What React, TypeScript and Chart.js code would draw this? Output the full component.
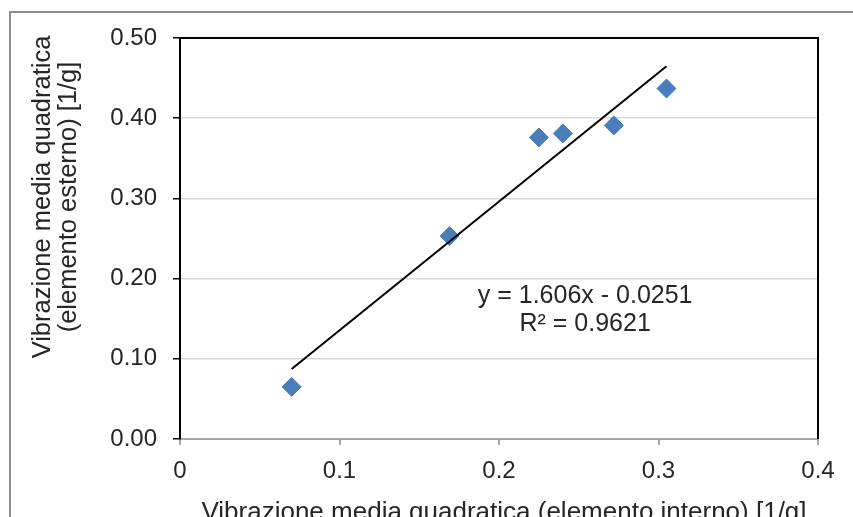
import { useEffect, useRef } from 'react';
import { Chart, registerables } from 'chart.js';

Chart.register(...registerables);

// ---- data ----
const xValues = [0.070, 0.169, 0.225, 0.240, 0.272, 0.305];
const yValues = [0.065, 0.253, 0.376, 0.381, 0.391, 0.437];
const SLOPE = 1.606;
const INTERCEPT = -0.0251;
const R2 = 0.9621;
const xTicks = [0, 0.1, 0.2, 0.3, 0.4];
const yTicks = [0, 0.1, 0.2, 0.3, 0.4, 0.5];
const xTitle = 'Vibrazione media quadratica (elemento interno) [1/g]';
const yTitle = ['Vibrazione media quadratica', '(elemento esterno) [1/g]'];
const equationLines = ['y = ' + SLOPE + 'x - ' + Math.abs(INTERCEPT), 'R² = ' + R2];

const FONT = '"Liberation Sans", Arial, sans-serif';
const TEXT = '#262626';

export default function App() {
  const ref = useRef<HTMLCanvasElement | null>(null);

  useEffect(() => {
    if (!ref.current) return;
    const points = xValues.map((x, i) => ({ x, y: yValues[i] }));
    const xmin = Math.min(...xValues);
    const xmax = Math.max(...xValues);
    const trend = [xmin, xmax].map((x) => ({ x, y: SLOPE * x + INTERCEPT }));

    const decor = {
      id: 'decor',
      beforeDraw(chart: any) {
        const ctx = chart.ctx;
        ctx.save();
        ctx.strokeStyle = '#8c8c8c';
        ctx.lineWidth = 2;
        ctx.beginPath();
        ctx.moveTo(10, 520);
        ctx.lineTo(10, 12);
        ctx.lineTo(860, 12);
        ctx.stroke();
        ctx.restore();
      },
      afterDraw(chart: any) {
        const ctx = chart.ctx;
        const a = chart.chartArea;
        const xs = chart.scales.x;
        const ys = chart.scales.y;
        ctx.save();
        // plot area top/right border
        ctx.strokeStyle = '#000';
        ctx.lineWidth = 2;
        ctx.beginPath();
        ctx.moveTo(a.left, a.top);
        ctx.lineTo(a.right, a.top);
        ctx.lineTo(a.right, a.bottom);
        ctx.stroke();
        // equation
        ctx.fillStyle = TEXT;
        ctx.font = '25px ' + FONT;
        ctx.textAlign = 'center';
        ctx.textBaseline = 'middle';
        const ex = xs.getPixelForValue(0.254);
        const ey = ys.getPixelForValue(0.178);
        equationLines.forEach((t, i) => ctx.fillText(t, ex, ey + i * 28));
        // x title
        ctx.font = '26px ' + FONT;
        ctx.textBaseline = 'alphabetic';
        ctx.fillText(xTitle, (a.left + a.right) / 2 + 5, 520);
        // y title
        ctx.font = '25.5px ' + FONT;
        ctx.translate(a.left - 137, a.top + 159);
        ctx.rotate(-Math.PI / 2);
        ctx.textBaseline = 'middle';
        yTitle.forEach((t, i) => ctx.fillText(t, 0, i * 26));
        ctx.restore();
      },
    };

    const chart = new Chart(ref.current, {
      type: 'scatter',
      data: {
        datasets: [
          {
            label: 'trend',
            data: trend,
            showLine: true,
            borderColor: '#000',
            borderWidth: 2,
            pointRadius: 0,
            order: 0,
          },
          {
            label: 'data',
            data: points,
            pointStyle: 'rectRot',
            pointRadius: 9.5,
            backgroundColor: '#4a7ebb',
            borderColor: '#4a7ebb',
            borderWidth: 1,
            order: 1,
          },
        ],
      },
      plugins: [decor],
      options: {
        responsive: false,
        animation: false,
        layout: { padding: { left: 0, top: 38, right: 35, bottom: 0 } },
        plugins: { legend: { display: false }, tooltip: { enabled: false } },
        scales: {
          x: {
            type: 'linear',
            min: 0,
            max: 0.4,
            afterBuildTicks: (s: any) => {
              s.ticks = xTicks.map((v) => ({ value: v }));
            },
            afterFit: (s: any) => {
              s.height = 78;
            },
            grid: { drawOnChartArea: false, tickColor: '#a6a6a6', tickLength: 6, lineWidth: 2 },
            border: { color: '#a6a6a6', width: 2 },
            ticks: {
              color: TEXT,
              font: { size: 24, family: FONT },
              padding: 12,
              maxRotation: 0,
              callback: (v: any) => (Number(v) === 0 ? '0' : Number(v).toFixed(1)),
            },
          },
          y: {
            type: 'linear',
            min: 0,
            max: 0.5,
            afterBuildTicks: (s: any) => {
              s.ticks = yTicks.map((v) => ({ value: v }));
            },
            afterFit: (s: any) => {
              s.width = 180;
            },
            grid: {
              color: (c: any) =>
                c.tick && (c.tick.value === 0 || c.tick.value === 0.5) ? 'rgba(0,0,0,0)' : '#d9d9d9',
              tickColor: '#000',
              tickLength: 7,
              lineWidth: 1.5,
            },
            border: { color: '#000', width: 2 },
            ticks: {
              color: TEXT,
              font: { size: 24, family: FONT },
              padding: 16,
              callback: (v: any) => Number(v).toFixed(2),
            },
          },
        },
      },
    } as any);

    return () => chart.destroy();
  }, []);

  return (
    <div style={{ position: 'absolute', left: 0, top: 0 }}>
      <canvas ref={ref} width={853} height={517} style={{ display: 'block' }} />
    </div>
  );
}
